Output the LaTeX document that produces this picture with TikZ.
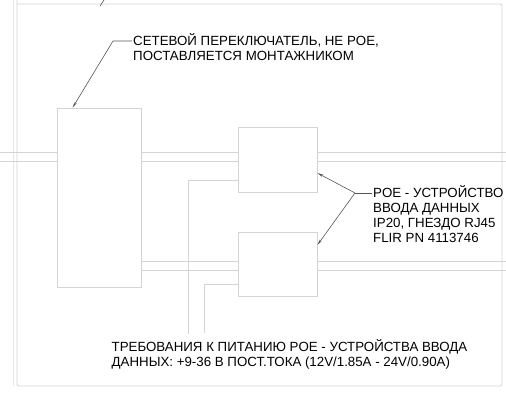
\documentclass[tikz,border=0pt]{standalone}
\usepackage{fontspec}
\setmainfont{Liberation Sans}
\usetikzlibrary{arrows.meta,calc}
\definecolor{wire}{RGB}{212,212,212}
\definecolor{lead}{RGB}{85,85,85}
\begin{document}
\begin{tikzpicture}[x=1pt,y=-1pt,
    wireline/.style={draw=wire,line width=0.8pt},
    unit/.style={draw=wire,line width=0.8pt,inner sep=0pt},
    leadline/.style={draw=lead,line width=0.6pt},
    tip/.style={-{Stealth[length=6pt,width=2.4pt]}},
    note/.style={font=\fontsize{13.3}{14.9}\selectfont,align=left,inner xsep=1pt,inner ysep=0pt,anchor=base west}]
        \useasboundingbox (0,0) rectangle (506,392);
        \coordinate (edgeL) at (0,0);
        \coordinate (edgeR) at (506,0);
        \draw[wireline,draw=wire!60] (13,0) -- (13,386);
        \draw[wireline,rounded corners=2pt] (17,0) -- (17,386) -- (502,386) -- (502,4) -- (17,4);
        \node[unit,minimum width=84pt,minimum height=179pt] (switch) at (99,197.5) {};
        \node[unit,minimum width=79pt,minimum height=65pt] (poea) at (277.5,159.5) {};
        \node[unit,minimum width=79pt,minimum height=64pt] (poeb) at (277.5,264) {};
        \foreach \y in {152,161} {
          \draw[wireline] (edgeL |- 0,\y) -- (switch.west |- 0,\y);
          \draw[wireline] (switch.east |- 0,\y) -- (poea.west |- 0,\y);
          \draw[wireline] (poea.east |- 0,\y) -- (edgeR |- 0,\y);
        }
        \foreach \y in {261,270} {
          \draw[wireline] (switch.east |- 0,\y) -- (poeb.west |- 0,\y);
          \draw[wireline] (poeb.east |- 0,\y) -- (edgeR |- 0,\y);
        }
        \draw[wireline] (poea.west |- 0,180) -| (188,334);
        \draw[wireline] (poeb.west |- 0,284) -| (204,333);
        % base anchor sits on the last line
        \node[note] (swtext) at (132,60) {СЕТЕВОЙ ПЕРЕКЛЮЧАТЕЛЬ, НЕ POE,\\ПОСТАВЛЯЕТСЯ МОНТАЖНИКОМ};
        \coordinate (swbend) at (113,41);
        \draw[leadline,tip] (swtext.west |- swbend) -- (swbend) -- ($(switch.north west)+(16,0)$);
        \draw[leadline] (100,6) -- (104,0);
        \node[note] (poetext) at (372,242.5) {POE - УСТРОЙСТВО\\ВВОДА ДАННЫХ\\IP20, ГНЕЗДО RJ45\\FLIR PN 4113746};
        \coordinate (poefork) at (355,193);
        \draw[leadline] (poetext.west |- poefork) -- (poefork);
        \draw[leadline,tip] (poefork) -- (poea.east |- 0,173);
        \draw[leadline,tip] (poefork) -- (poeb.east |- 0,245);
        \node[note] (reqtext) at (110.5,366.5) {ТРЕБОВАНИЯ К ПИТАНИЮ POE - УСТРОЙСТВА ВВОДА\\ДАННЫХ: +9-36 В ПОСТ.ТОКА (12V/1.85A - 24V/0.90A)};
      \end{tikzpicture}
\end{document}
